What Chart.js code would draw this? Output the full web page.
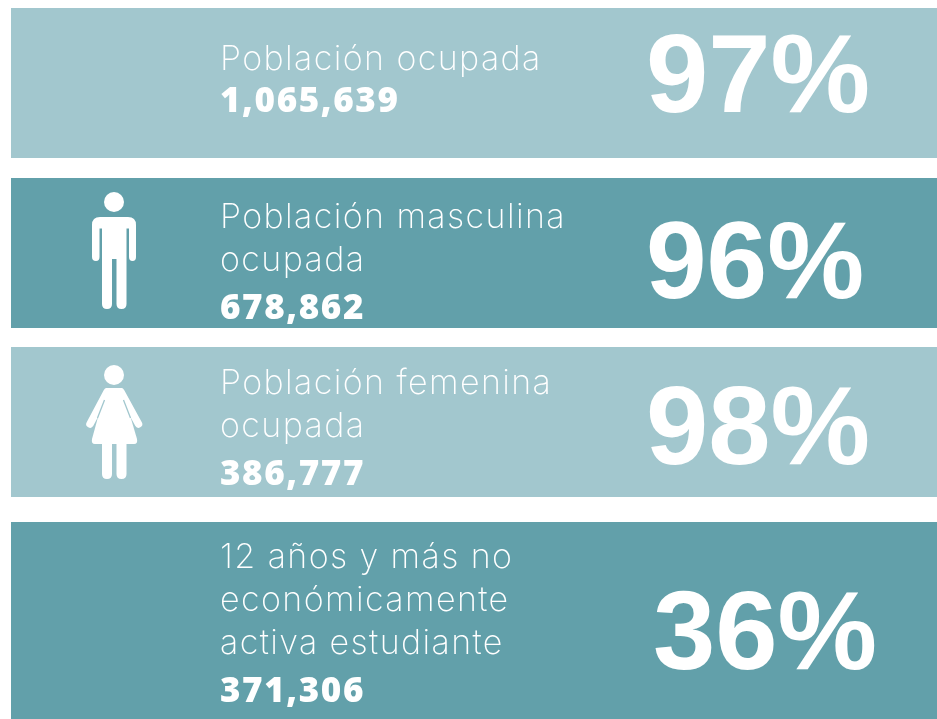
<!DOCTYPE html>
<html>
<head>
<meta charset="utf-8">
<script src="https://cdn.jsdelivr.net/npm/chart.js@4"></script>
<style>
  html, body { margin:0; padding:0; background:#fff; }
  body { position:relative; width:937px; height:719px; overflow:hidden; }
  .band { position:absolute; left:11px; width:926px; }
  .band canvas { display:block; }
  .icon { position:absolute; left:0; top:0; }
</style>
</head>
<body>
<div class="band" style="top:8px;height:150px"><canvas id="band0"></canvas></div>
<div class="band" style="top:178px;height:150px"><canvas id="band1"></canvas></div>
<div class="band" style="top:347px;height:150px"><canvas id="band2"></canvas></div>
<div class="band" style="top:522px;height:197px"><canvas id="band3"></canvas></div>

<svg class="icon" width="937" height="719" fill="#fff">
  <!-- hombre -->
  <g>
    <circle cx="114" cy="202" r="10"/>
    <path d="M100 217H128Q136 217 136 225V257Q136 261 132.500 261Q129 261 129 257V228.500H126.500V304Q126.500 309 121.500 309Q116.500 309 116.500 304V259H112V304Q112 309 107 309Q102 309 102 304V228.500H99.500V257Q99.500 261 96 261Q92 261 92 257V225Q92 217 100 217Z"/>
  </g>
  <!-- mujer -->
  <g>
    <circle cx="114" cy="375" r="10"/>
    <path d="M106 388H122L137 439Q138 444 134 444H95Q91 444 92 439Z"/>
    <path d="M102 440H112V474Q112 479 107 479Q102 479 102 474ZM116.500 440H126.500V474Q126.500 479 121.500 479Q116.500 479 116.500 474Z"/>
    <path d="M107 392L90 424M121 392L138.500 424" stroke="#fff" stroke-width="7.500" stroke-linecap="round" fill="none"/>
    <path d="M104.500 400L97.500 418M123.500 400L130.500 418" stroke="#a2c7ce" stroke-width="1.300" fill="none"/>
  </g>
</svg>

<script>
const categories = ["Población ocupada", "Población masculina ocupada", "Población femenina ocupada", "12 años y más no económicamente activa estudiante"];
const labelLines = [
  ["Población ocupada"],
  ["Población masculina", "ocupada"],
  ["Población femenina", "ocupada"],
  ["12 años y más no", "económicamente", "activa estudiante"]
];
const personas = ["1,065,639", "678,862", "386,777", "371,306"];
const porcentajes = [97, 96, 98, 36];
const bandValues = [100, 100, 100, 100];
const bandColors = ["#a2c7ce", "#62a0aa", "#a2c7ce", "#62a0aa"];

// text of each band: baselines are relative to the top of the band
const layouts = [
  {firstLine:62, lineGap:0, numberY:104, pctX:635, pctY:104, pctSize:112},
  {firstLine:50, lineGap:43, numberY:141, pctX:635, pctY:120, pctSize:109},
  {firstLine:47, lineGap:43, numberY:138, pctX:635, pctY:117, pctSize:112},
  {firstLine:46, lineGap:43, numberY:180, pctX:642, pctY:147, pctSize:112}
];

const bandText = {
  id:"bandText",
  afterDatasetsDraw(chart, args, opts){
    const ctx = chart.ctx;
    const i = opts.index;
    const l = layouts[i];
    ctx.save();
    ctx.fillStyle = "#fff";
    ctx.textAlign = "left";
    ctx.textBaseline = "alphabetic";
    ctx.font = "200 34px Inter";
    ctx.letterSpacing = "1.4px";
    labelLines[i].forEach((t, n)=>{
      ctx.fillText(t, 209, l.firstLine + n * l.lineGap);
    });
    ctx.font = "800 35px 'Open Sans'";
    ctx.letterSpacing = "1.6px";
    ctx.fillText(personas[i], 209, l.numberY);
    ctx.letterSpacing = "0px";
    ctx.font = "bold " + l.pctSize + "px 'Liberation Sans'";
    ctx.fillText(porcentajes[i] + "%", l.pctX, l.pctY);
    ctx.restore();
  }
};

categories.forEach((c, i)=>{
  new Chart(document.getElementById("band" + i).getContext("2d"), {
    type:"bar",
    data:{
      labels:[c],
      datasets:[{
        label:c,
        data:[bandValues[i]],
        backgroundColor:bandColors[i],
        categoryPercentage:1,
        barPercentage:1
      }]
    },
    options:{
      indexAxis:"y",
      responsive:true,
      maintainAspectRatio:false,
      animation:false,
      layout:{padding:0},
      plugins:{
        legend:{display:false},
        tooltip:{enabled:false},
        bandText:{index:i}
      },
      scales:{
        x:{display:false, min:0, max:100},
        y:{display:false}
      }
    },
    plugins:[bandText]
  });
});
</script>
</body>
</html>
